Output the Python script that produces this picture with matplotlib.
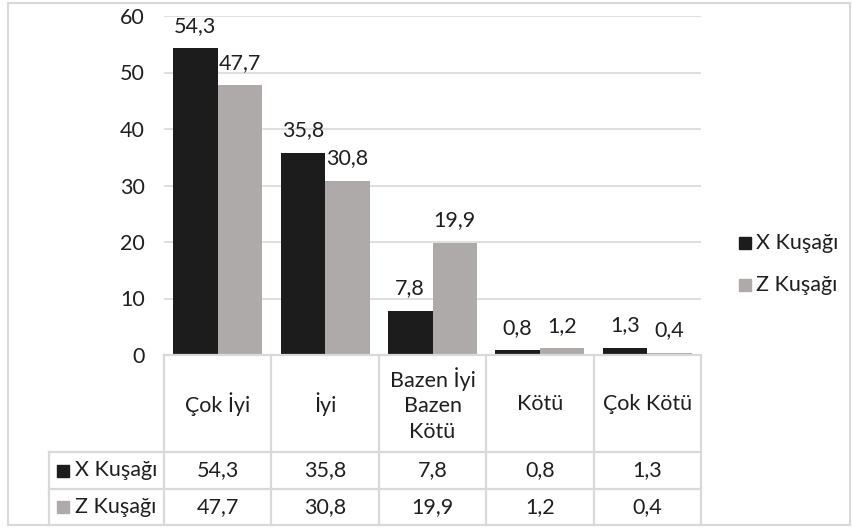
import numpy as np
import matplotlib.pyplot as plt
from matplotlib.patches import Rectangle

plt.rcParams['font.family'] = ['Lato', 'DejaVu Sans']

# data
categories = ['Çok İyi', 'İyi', 'Bazen İyi\nBazen\nKötü', 'Kötü', 'Çok Kötü']
series_names = ['X Kuşağı', 'Z Kuşağı']
x_gen = [54.3, 35.8, 7.8, 0.8, 1.3]
z_gen = [47.7, 30.8, 19.9, 1.2, 0.4]
yticks = [0, 10, 20, 30, 40, 50, 60]

colors = ['#1c1c1c', '#aeaaaa']
text_c = '#1f1f1f'
line_c = '#d9d9d9'
fs = 15.5

W, H = 852, 528
fig = plt.figure(figsize=(W / 100, H / 100), dpi=100)

# plot area in pixel units
left, right, top, bottom = 164, 701, 16, 355
ax = fig.add_axes([left / W, 1 - bottom / H, (right - left) / W, (bottom - top) / H])

ind = np.arange(len(categories))
bw = 0.415
for vals, off, c in [(x_gen, -bw / 2, colors[0]), (z_gen, bw / 2, colors[1])]:
    bars = ax.bar(ind + off, vals, bw, color=c, zorder=2)
    for b, v in zip(bars, vals):
        ax.annotate(f'{v:.1f}'.replace('.', ','), (b.get_x() + b.get_width() / 2, v),
                    xytext=(0, 9), textcoords='offset points', ha='center', va='bottom',
                    fontsize=fs, color=text_c)

ax.set_xlim(-0.5, len(categories) - 0.5)
ax.set_ylim(0, 60)
ax.set_yticks(yticks)
ax.set_xticks([])
ax.yaxis.grid(True, color=line_c, lw=1.2, zorder=0)
ax.tick_params(axis='y', length=0, pad=14, labelsize=fs, labelcolor=text_c)
for s in ax.spines.values():
    s.set_visible(False)

# overlay in pixel coordinates for the data table, legend and border
ov = fig.add_axes([0, 0, 1, 1])
ov.set_xlim(0, W)
ov.set_ylim(H, 0)
ov.axis('off')

ov.add_patch(Rectangle((8, 3), W - 10, 522, fill=False, ec=line_c, lw=1.5))

col_w = (right - left) / len(categories)
row_top, row1, row2, row_bot = 355, 452, 489, 525
tab_left = 49
lw = 1.6
# horizontal rules
ov.plot([left, right], [row_top, row_top], color=line_c, lw=lw)
for yy in (row1, row2, row_bot):
    ov.plot([tab_left, right], [yy, yy], color=line_c, lw=lw)
# vertical rules
for i in range(len(categories) + 1):
    xx = left + i * col_w
    ov.plot([xx, xx], [row_top, row_bot], color=line_c, lw=lw)
ov.plot([tab_left, tab_left], [row1, row_bot], color=line_c, lw=lw)

for i, cat in enumerate(categories):
    cx = left + (i + 0.5) * col_w
    ov.text(cx, (row_top + row1) / 2 + 1, cat, ha='center', va='center', fontsize=fs,
            color=text_c, linespacing=1.35)
    ov.text(cx, (row1 + row2) / 2, f'{x_gen[i]:.1f}'.replace('.', ','), ha='center',
            va='center', fontsize=fs, color=text_c)
    ov.text(cx, (row2 + row_bot) / 2, f'{z_gen[i]:.1f}'.replace('.', ','), ha='center',
            va='center', fontsize=fs, color=text_c)

for (y0, y1), name, c in zip([(row1, row2), (row2, row_bot)], series_names, colors):
    cy = (y0 + y1) / 2
    ov.add_patch(Rectangle((57, cy - 6), 12, 12, color=c))
    ov.text(75, cy, name, ha='left', va='center', fontsize=fs, color=text_c)

# legend
for cy, name, c in zip([243, 285], series_names, colors):
    ov.add_patch(Rectangle((739, cy - 6), 12, 12, color=c))
    ov.text(756, cy, name, ha='left', va='center', fontsize=fs, color=text_c)

fig.savefig('out.png', dpi=100)
